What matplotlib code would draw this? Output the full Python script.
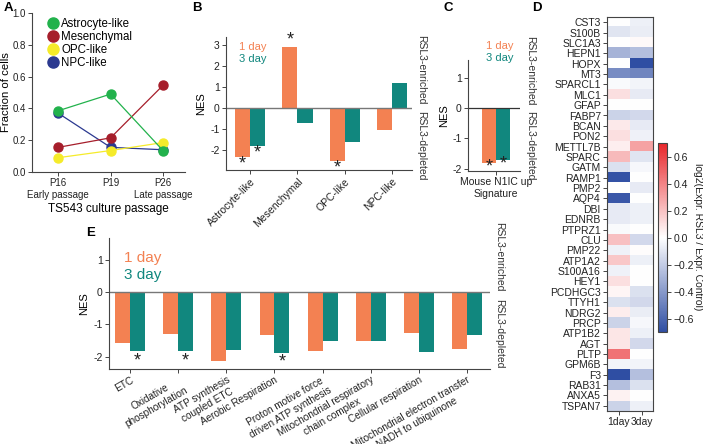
import numpy as np
import matplotlib
matplotlib.use("Agg")
import matplotlib.pyplot as plt
from matplotlib.colors import LinearSegmentedColormap
from matplotlib.lines import Line2D

plt.rcParams["font.family"] = ["Liberation Sans", "DejaVu Sans"]
plt.rcParams["axes.unicode_minus"] = False
plt.rcParams["axes.linewidth"] = 0.8
plt.rcParams["xtick.major.size"] = 3
plt.rcParams["ytick.major.size"] = 3
plt.rcParams["xtick.major.width"] = 0.7
plt.rcParams["ytick.major.width"] = 0.7

ORANGE = "#f38152"
TEAL = "#11877e"
AX_COL = "#444444"

# ---- panel A data
passages = ["P16\nEarly passage", "P19", "P26\nLate passage"]
astro = [0.385, 0.49, 0.135]
mesen = [0.155, 0.215, 0.545]
opc = [0.09, 0.135, 0.185]
npc = [0.37, 0.155, 0.14]

# ---- panel B data
states = ["Astrocyte-like", "Mesenchymal", "OPC-like", "NPC-like"]
b_day1 = [-2.35, 2.9, -2.5, -1.05]
b_day3 = [-1.83, -0.72, -1.6, 1.17]
b_sig1 = [True, True, True, False]
b_sig3 = [True, False, False, False]

# ---- panel C data
c_label = ["Mouse N1IC up\nSignature"]
c_day1 = [-1.8]
c_day3 = [-1.7]

# ---- panel D data
genes = ["CST3", "S100B", "SLC1A3", "HEPN1", "HOPX", "MT3", "SPARCL1", "MLC1",
         "GFAP", "FABP7", "BCAN", "PON2", "METTL7B", "SPARC", "GATM", "RAMP1",
         "PMP2", "AQP4", "DBI", "EDNRB", "PTPRZ1", "CLU", "PMP22", "ATP1A2",
         "S100A16", "HEY1", "PCDHGC3", "TTYH1", "NDRG2", "PRCP", "ATP1B2", "AGT",
         "PLTP", "GPM6B", "F3", "RAB31", "ANXA5", "TSPAN7"]
d_day1 = [0.0, -0.1, 0.0, -0.3, 0.0, -0.45, -0.02, 0.1,
          0.0, -0.17, 0.07, 0.1, 0.05, 0.22, -0.12, -0.68,
          0.0, -0.66, -0.08, -0.08, -0.02, 0.2, -0.05, 0.18,
          -0.05, 0.1, 0.03, -0.12, 0.06, -0.17, 0.08, 0.08,
          0.45, -0.04, -0.7, -0.25, 0.04, -0.17]
d_day3 = [-0.06, -0.07, 0.02, -0.25, -0.7, -0.48, -0.04, -0.08,
          0.0, -0.15, -0.08, -0.05, 0.3, -0.1, -0.03, 0.0,
          -0.08, 0.0, -0.06, -0.06, 0.0, -0.15, 0.01, -0.06,
          0.0, 0.0, -0.12, -0.15, -0.07, -0.03, -0.06, -0.15,
          0.0, -0.04, -0.25, -0.12, 0.0, -0.06]
heat_cols = ["1day", "3day"]

# ---- panel E data
pathways = ["ETC", "Oxidative\nphosphorylation", "ATP synthesis\ncoupled ETC",
            "Aerobic Respiration", "Proton motive force\ndriven ATP synthesis",
            "Mitochondrial respiratory\nchain complex", "Cellular respiration",
            "Mitochondrial electron transfer\nNADH to ubiquinone"]
e_day1 = [-1.58, -1.3, -2.14, -1.34, -1.81, -1.5, -1.26, -1.76]
e_day3 = [-1.83, -1.82, -1.79, -1.87, -1.5, -1.52, -1.84, -1.34]
e_sig3 = [True, True, False, True, False, False, False, False]

W, H = 703, 444
fig = plt.figure(figsize=(W / 100, H / 100), dpi=100)


def box(l, t, r, b):
    return [l / W, 1 - b / H, (r - l) / W, (b - t) / H]


def style(ax):
    for s in ["top", "right"]:
        ax.spines[s].set_visible(False)
    for s in ["left", "bottom"]:
        ax.spines[s].set_color(AX_COL)
    ax.tick_params(colors=AX_COL, labelcolor="#222222", labelsize=7.5, pad=1.5)


def star(ax, x, v, off):
    d = -off if v < 0 else off
    ax.annotate("*", xy=(x, v), xytext=(0, d), textcoords="offset points",
                ha="center", va="center", fontsize=13, color="#222222")


def side_text(ax, y_en, y_de, x=1.03):
    ax.text(x, y_en, "RSL3-enriched", rotation=270, transform=ax.transAxes,
            ha="left", va="center", fontsize=7.5, color="#333333")
    ax.text(x, y_de, "RSL3-depleted", rotation=270, transform=ax.transAxes,
            ha="left", va="center", fontsize=7.5, color="#333333")


# ================= A
axA = fig.add_axes(box(32, 13, 185, 172))
style(axA)
axA.tick_params(labelsize=7)
xa = np.arange(len(passages))
for vals, col in [(npc, "#2b3990"), (opc, "#f5eb2a"), (mesen, "#a61e2b"), (astro, "#22b24c")]:
    axA.plot(xa, vals, color=col, lw=0.9, marker="o", ms=6.5, clip_on=False)
axA.set_xlim(-0.5, 2.42)
axA.set_ylim(0, 1)
axA.set_yticks(np.arange(0, 1.01, 0.2))
axA.set_yticklabels(["%.1f" % v for v in np.arange(0, 1.01, 0.2)])
axA.set_xticks(xa)
axA.set_xticklabels(passages, fontsize=7)
axA.set_ylabel("Fraction of cells", fontsize=8.2)
axA.yaxis.set_label_coords(-0.14, 0.5)
axA.set_xlabel("TS543 culture passage", fontsize=8.5, labelpad=2)
handles = [Line2D([], [], ls="", marker="o", ms=8, color=c) for c in
           ["#22b24c", "#a61e2b", "#f5eb2a", "#2b3990"]]
axA.legend(handles, ["Astrocyte-like", "Mesenchymal", "OPC-like", "NPC-like"],
           loc="upper left", bbox_to_anchor=(0.04, 1.02), frameon=False, fontsize=8.3,
           handletextpad=0.1, labelspacing=0.1, borderpad=0.2, handlelength=1.2)

# ================= B
axB = fig.add_axes(box(226, 36.6, 412, 170))
style(axB)
xb = np.arange(len(states))
w = 0.32
axB.bar(xb - w / 2, b_day1, w, color=ORANGE)
axB.bar(xb + w / 2, b_day3, w, color=TEAL)
axB.axhline(0, color="#777777", lw=1)
for i in range(len(states)):
    if b_sig1[i]:
        star(axB, xb[i] - w / 2, b_day1[i], 5)
    if b_sig3[i]:
        star(axB, xb[i] + w / 2, b_day3[i], 5)
axB.set_xlim(-0.51, 3.42)
axB.set_ylim(-2.95, 3.4)
axB.set_yticks(range(-2, 4))
axB.set_xticks(xb)
axB.set_xticklabels(states, rotation=45, ha="right", rotation_mode="anchor")
axB.set_ylabel("NES", fontsize=8, labelpad=3)
axB.text(0.07, 0.92, "1 day", color=ORANGE, fontsize=8, transform=axB.transAxes, va="center")
axB.text(0.07, 0.83, "3 day", color=TEAL, fontsize=8, transform=axB.transAxes, va="center")
side_text(axB, 0.75, 0.18, x=1.02)

# ================= C
axC = fig.add_axes(box(468, 60, 520, 171))
style(axC)
wc = 0.35
axC.bar([-wc / 2], c_day1, wc, color=ORANGE)
axC.bar([wc / 2], c_day3, wc, color=TEAL)
axC.axhline(0, color="#333333", lw=0.9)
star(axC, -wc / 2, c_day1[0], 3)
star(axC, wc / 2, c_day3[0], 3)
axC.set_xlim(-0.7, 0.6)
axC.set_ylim(-2.08, 1.6)
axC.set_yticks(range(-2, 2))
axC.set_xticks([0])
axC.set_xticklabels(c_label, fontsize=7.5)
axC.set_ylabel("NES", fontsize=8, labelpad=2)
axC.text(0.35, 1.13, "1 day", color=ORANGE, fontsize=8, transform=axC.transAxes, va="center")
axC.text(0.35, 1.02, "3 day", color=TEAL, fontsize=8, transform=axC.transAxes, va="center")
side_text(axC, 0.9, 0.23, x=1.1)

# ================= D
cmap = LinearSegmentedColormap.from_list("bwr_soft", ["#2f4ea3", "#ffffff", "#e8262a"])
axD = fig.add_axes(box(607, 17, 653, 411))
heat = np.column_stack([d_day1, d_day3])
im = axD.imshow(heat, aspect="auto", cmap=cmap, vmin=-0.7, vmax=0.7,
                interpolation="nearest")
axD.set_yticks(np.arange(len(genes)))
axD.set_yticklabels(genes)
axD.set_xticks(np.arange(len(heat_cols)))
axD.set_xticklabels(heat_cols)
axD.tick_params(colors=AX_COL, labelcolor="#222222", labelsize=7.5, pad=1.5)
for s in axD.spines.values():
    s.set_color(AX_COL)

axCb = fig.add_axes(box(658, 143, 667, 332))
cb = fig.colorbar(im, cax=axCb)
cticks = [-0.6, -0.4, -0.2, 0.0, 0.2, 0.4, 0.6]
cb.set_ticks(cticks)
cb.set_ticklabels([("%.1f" % t).replace("-", "\u2212") for t in cticks])
cb.outline.set_edgecolor(AX_COL)
cb.outline.set_linewidth(0.8)
axCb.tick_params(labelsize=7.5, colors=AX_COL, labelcolor="#222222", pad=1.5, length=3)
fig.text(698 / W, 1 - 237 / H, "log2(Expr. RSL3 / Expr. Control)", rotation=270,
         ha="center", va="center", fontsize=7.5, color="#222222")

# ================= E
axE = fig.add_axes(box(109, 238, 490, 369))
style(axE)
xe = np.arange(len(pathways))
we = 0.31
axE.bar(xe - we / 2, e_day1, we, color=ORANGE)
axE.bar(xe + we / 2, e_day3, we, color=TEAL)
axE.axhline(0, color="#777777", lw=1)
for i in range(len(pathways)):
    if e_sig3[i]:
        star(axE, xe[i] + we / 2, e_day3[i], 7)
axE.set_xlim(-0.44, 7.48)
axE.set_ylim(-2.38, 1.67)
axE.set_yticks(range(-2, 2))
axE.set_xticks(xe)
axE.set_xticklabels(pathways, rotation=30, ha="right", va="top",
                    rotation_mode="anchor", multialignment="center", fontsize=7.2)
axE.tick_params(axis="x", pad=1)
axE.set_ylabel("NES", fontsize=8, labelpad=3)
axE.text(0.04, 0.85, "1 day", color=ORANGE, fontsize=11, transform=axE.transAxes, va="center")
axE.text(0.04, 0.72, "3 day", color=TEAL, fontsize=11, transform=axE.transAxes, va="center")
side_text(axE, 0.855, 0.27, x=1.01)

# panel letters
for lab, x, y in [("A", 8, 8), ("B", 197, 8), ("C", 448, 8), ("D", 537, 8), ("E", 91, 233)]:
    fig.text(x / W, 1 - y / H, lab, fontsize=9.5, fontweight="bold", ha="center", va="center")

fig.savefig("out.png", dpi=100)
